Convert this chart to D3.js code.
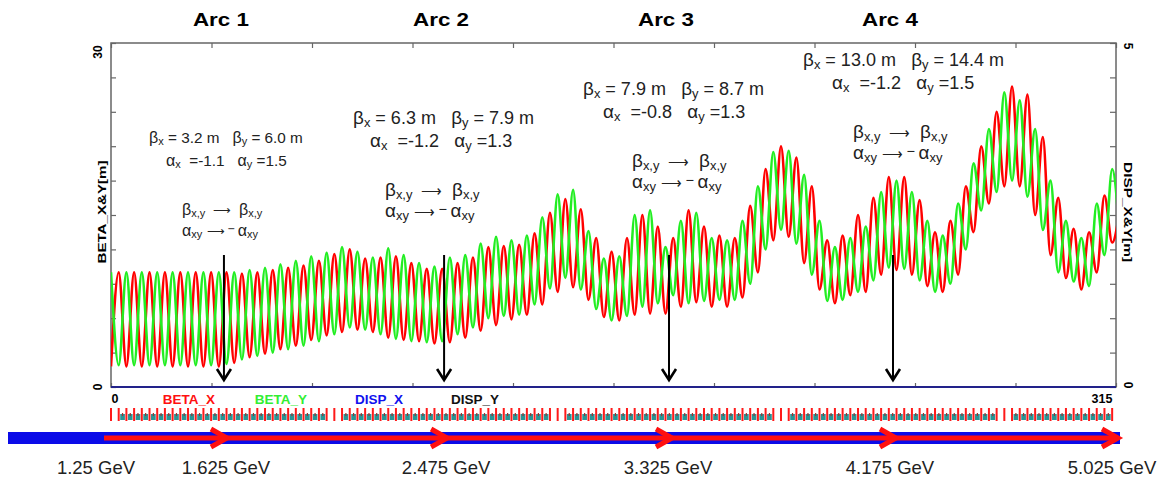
<!DOCTYPE html>
<html>
<head>
<meta charset="utf-8">
<script src="https://cdn.jsdelivr.net/npm/d3@7/dist/d3.min.js"></script>
<style>
  body { margin: 0; background: #fff; }
  svg { display: block; }
  text { font-family: "Liberation Sans", Arial, sans-serif; }
</style>
</head>
<body>
<svg id="chart" width="1169" height="481"></svg>
<script>
// ---- lattice functions sampled at every quadrupole (half-cell spacing) ----
const betaX = [
  1.8,10.0,1.8,10.0,1.8,10.0,1.8,10.0,1.8,10.0,1.8,10.0,1.8,10.0,1.8,10.0,
  2.1,9.9,2.6,10.0,2.9,10.2,3.3,10.4,3.6,10.6,4.1,11.0,4.5,11.6,4.8,12.0,
  5.0,11.2,4.8,11.3,4.3,11.4,4.1,10.8,4.0,10.3,3.8,10.3,3.9,10.8,4.3,11.3,
  4.9,12.2,5.4,12.3,5.9,12.4,6.3,13.4,7.2,15.2,8.3,16.4,8.7,15.5,7.6,13.0,
  6.1,11.8,5.8,13.0,6.3,15.0,6.4,14.0,6.4,13.0,7.0,15.4,7.4,14.0,7.0,13.2,
  7.0,13.0,7.8,15.8,10.0,19.0,12.8,21.0,13.1,20.0,10.8,17.5,8.5,12.8,7.3,13.2,
  8.0,15.0,8.3,16.5,9.8,18.3,10.2,18.3,9.8,16.3,8.8,13.5,8.3,14.5,9.8,17.5,
  13.5,21.0,16.0,24.0,17.5,26.2,17.5,25.5,15.0,21.8,11.5,16.5,9.5,13.8,8.5,13.5,
  10.0,16.7,12.6,15.5
];
const betaY = [
  10.0,1.9,10.0,1.9,10.0,1.9,10.0,1.9,10.0,1.9,10.0,1.9,10.0,1.9,10.0,2.0,
  10.0,2.4,10.2,2.7,10.4,3.0,10.7,3.3,11.0,3.6,11.4,4.0,11.7,4.6,12.2,5.2,
  11.8,5.0,11.3,4.6,12.1,4.2,11.5,4.0,10.8,3.9,10.5,4.0,11.3,4.6,11.5,5.2,
  12.5,6.0,13.1,6.2,12.8,6.3,13.2,7.2,14.8,8.6,16.8,9.5,17.2,8.5,13.6,6.8,
  11.2,5.8,11.4,6.2,15.0,7.0,15.4,7.3,12.2,8.0,14.5,7.3,15.2,7.5,13.0,7.6,
  12.8,7.6,14.5,9.0,17.5,12.0,20.5,13.7,20.6,12.5,18.5,9.8,14.5,7.5,12.2,7.6,
  13.0,8.3,14.0,9.3,17.0,10.4,18.0,10.3,17.0,9.3,14.5,8.3,13.2,9.0,16.0,12.0,
  19.5,15.4,22.5,17.0,25.7,18.0,25.0,16.6,22.5,13.7,18.0,10.0,14.5,9.2,13.0,8.8,
  16.0,11.5,19.0,13.0
];
// dispersion is zero along the whole line
const dispS = [0, 315];
const dispX = [0, 0];
const dispY = [0, 0];

const HALF_CELL = 315 / 130.5;        // quadrupole spacing [m]
const sDomain = [0, 315];
const betaDomain = [0, 30];
const dispDomain = [0, 5];
const betaTicks = [0, 3, 6, 9, 12, 15, 18, 21, 24, 27, 30];
const dispTicks = [0, 0.5, 1, 1.5, 2, 2.5, 3, 3.5, 4, 4.5, 5];
const sTicks = [0, 31.5, 63, 94.5, 126, 157.5, 189, 220.5, 252, 283.5, 315];

// straight sections (no dipoles) [m]
const straights = [[0, 2.2], [67.4, 73.0], [137.2, 142.5], [208.4, 213.1], [277.3, 282.0]];

const arcNames = ["Arc 1", "Arc 2", "Arc 3", "Arc 4"];
const arcCentres = [35.4, 104.4, 174.9, 245.1];
const twissBx = ["3.2", "6.3", "7.9", "13.0"];
const twissBy = ["6.0", "7.9", "8.7", "14.4"];
const twissAx = ["-1.1", "-1.2", "-0.8", "-1.2"];
const twissAy = ["1.5", "1.3", "1.3", "1.5"];
const energies = ["1.25 GeV", "1.625 GeV", "2.475 GeV", "3.325 GeV", "4.175 GeV", "5.025 GeV"];
const legendNames = ["BETA_X", "BETA_Y", "DISP_X", "DISP_Y"];
const legendColors = ["#ff1010", "#33ee33", "#1010ee", "#111111"];

// ---- layout ----
const svg = d3.select("#chart");
const x = d3.scaleLinear(sDomain, [111, 1116]);
const yB = d3.scaleLinear(betaDomain, [387, 43]);
const yD = d3.scaleLinear(dispDomain, [387, 43]);
const sOf = i => i * HALF_CELL;

svg.append("defs").append("clipPath").attr("id", "plotClip")
  .append("rect").attr("x", 111).attr("y", 43).attr("width", 1005).attr("height", 344);

// frame
svg.append("rect").attr("x", 111).attr("y", 43).attr("width", 1005).attr("height", 344)
  .attr("fill", "none").attr("stroke", "#666").attr("stroke-width", 1.5);

// inward ticks on all four sides
const tickStyle = g => { g.select(".domain").remove(); g.selectAll("line").attr("stroke", "#666").attr("stroke-width", 1.2); g.selectAll("text").remove(); };
svg.append("g").attr("transform", "translate(111,0)")
  .call(d3.axisLeft(yB).tickValues(betaTicks).tickSize(-5)).call(tickStyle);
svg.append("g").attr("transform", "translate(1116,0)")
  .call(d3.axisRight(yD).tickValues(dispTicks).tickSize(-6)).call(tickStyle);
svg.append("g").attr("transform", "translate(0,43)")
  .call(d3.axisTop(x).tickValues(sTicks).tickSize(-5)).call(tickStyle);
svg.append("g").attr("transform", "translate(0,387)")
  .call(d3.axisBottom(x).tickValues(sTicks).tickSize(-4)).call(tickStyle);

// beta functions
const plot = svg.append("g").attr("clip-path", "url(#plotClip)");
const line = d3.line().x((d, i) => x(sOf(i))).y(d => yB(d)).curve(d3.curveMonotoneX);
plot.append("path").datum(betaX).attr("d", line).attr("fill", "none")
  .attr("stroke", "#ff0000").attr("stroke-width", 2.6).attr("stroke-linejoin", "round");
plot.append("path").datum(betaY).attr("d", line).attr("fill", "none")
  .attr("stroke", "#22ee22").attr("stroke-width", 2.6).attr("stroke-linejoin", "round");

// dispersion (zero)
const dline = d3.line().x((d, i) => x(dispS[i])).y(d => yD(d));
svg.append("path").datum(dispY).attr("d", dline).attr("stroke", "#111").attr("stroke-width", 1.5);
svg.append("path").datum(dispX).attr("d", dline).attr("stroke", "#22228a").attr("stroke-width", 1.8);

// axis labels
const boldText = (tr, size, s) => svg.append("text").attr("transform", tr).attr("text-anchor", "middle")
  .attr("font-size", size).attr("font-weight", "bold").text(s);
boldText("translate(102,52) rotate(-90)", 12, "30");
boldText("translate(102,387) rotate(-90)", 12, "0");
boldText("translate(106,212) rotate(-90)", 11.5, "BETA_X&Y[m]").attr("textLength", 103).attr("lengthAdjust", "spacingAndGlyphs");
boldText("translate(1124,46) rotate(90)", 12, "5");
boldText("translate(1124,385) rotate(90)", 12, "0");
boldText("translate(1124,212) rotate(90)", 11.5, "DISP_X&Y[m]").attr("textLength", 100).attr("lengthAdjust", "spacingAndGlyphs");
svg.append("text").attr("x", x(0) + 4).attr("y", 403).attr("text-anchor", "middle")
  .attr("font-size", 12.5).attr("font-weight", "bold").text("0");
svg.append("text").attr("x", x(315) - 14).attr("y", 403).attr("text-anchor", "middle")
  .attr("font-size", 12.5).attr("font-weight", "bold").text("315");

// legend
const legendX = [189, 281, 379, 475];
legendNames.forEach((n, i) => {
  svg.append("text").attr("x", legendX[i]).attr("y", 404).attr("text-anchor", "middle")
    .attr("font-size", 13.5).attr("font-weight", "bold").attr("fill", legendColors[i]).text(n);
});

// lattice strip: dipoles between quadrupoles, quadrupoles as red bars
const quadS = betaX.map((d, i) => sOf(i)).filter(s => s <= 315);
const inStraight = (a, b) => straights.some(([s0, s1]) => (a + b) / 2 >= s0 && (a + b) / 2 <= s1);
const strip = svg.append("g");
quadS.slice(0, -1).forEach((s, i) => {
  const s2 = quadS[i + 1];
  if (inStraight(s, s2)) return;
  strip.append("rect").attr("x", x(s) + 1.5).attr("y", 414).attr("width", x(s2) - x(s) - 3).attr("height", 6)
    .attr("fill", "#2a9494");
  strip.append("rect").attr("x", (x(s) + x(s2)) / 2 - 0.6).attr("y", 413).attr("width", 1.2).attr("height", 3)
    .attr("fill", "#a03030");
});
quadS.forEach(s => {
  strip.append("rect").attr("x", x(s) - 1).attr("y", 408).attr("width", 2).attr("height", 13).attr("fill", "#ff1a1a");
});

// beam line and direction arrows
svg.append("rect").attr("x", 8).attr("y", 432).attr("width", 1112).attr("height", 12).attr("fill", "#0b0be8");
svg.append("line").attr("x1", 104).attr("x2", 1116).attr("y1", 438).attr("y2", 438)
  .attr("stroke", "#ff1010").attr("stroke-width", 5);
const arrowTips = arcCentres.map(s => x(s) + 4).concat([1119]);
arrowTips.forEach(t => {
  svg.append("path").attr("d", `M${t - 17},429 L${t - 1},438 L${t - 17},447`)
    .attr("fill", "none").attr("stroke", "#ff1010").attr("stroke-width", 5).attr("stroke-linejoin", "miter");
});

// energies
const energyX = [96, x(arcCentres[0]) + 2, x(arcCentres[1]) + 2, x(arcCentres[2]) - 1, x(arcCentres[3]) - 3, 1112];
energies.forEach((e, i) => {
  svg.append("text").attr("x", energyX[i]).attr("y", 474).attr("text-anchor", "middle")
    .attr("font-size", 18.5).attr("fill", "#222").text(e);
});

// arc titles, symmetry-point arrows and Twiss annotations
const blockTop = [143, 124, 95, 66];
const blockLeft = [149, 353, 583, 803];
const blockFont = [15.3, 18, 18, 18];
const alphaIndent = [17, 17, 20, 29];
const mapIndent = [33, 32, 49, 50];

// lays out one annotation row piece by piece (symbol, subscript, plain text)
function row(g, fs, y, x0, parts) {
  let cx = x0;
  parts.forEach(p => {
    const t = g.append("text").attr("x", cx).attr("y", y).text(p.t);
    if (p.g) t.attr("font-family", "Liberation Serif, DejaVu Serif, serif").attr("font-size", fs * 1.05);
    else if (p.sub) t.attr("font-size", fs * 0.72).attr("y", y + fs * 0.16);
    else if (p.arrow) t.attr("font-family", "DejaVu Sans, sans-serif").attr("font-size", fs * 0.9)
      .attr("textLength", fs * p.arrow).attr("lengthAdjust", "spacingAndGlyphs");
    else if (p.minus) t.attr("font-size", fs * 0.8).attr("y", y - fs * 0.18);
    else t.attr("font-size", fs);
    cx += t.node().getComputedTextLength() + (p.gap || 0) * fs;
  });
}

arcNames.forEach((n, i) => {
  const cx = x(arcCentres[i]);
  svg.append("text").attr("x", cx - 3).attr("y", 26).attr("text-anchor", "middle")
    .attr("font-size", 18).attr("font-weight", "bold")
    .attr("textLength", 56).attr("lengthAdjust", "spacingAndGlyphs").text(n);
  svg.append("line").attr("x1", cx).attr("x2", cx).attr("y1", 255).attr("y2", 379)
    .attr("stroke", "#000").attr("stroke-width", 2);
  svg.append("path").attr("d", `M${cx - 7},369 L${cx},380 L${cx + 7},369`)
    .attr("fill", "none").attr("stroke", "#000").attr("stroke-width", 2.6);

  const fs = blockFont[i];
  const g = svg.append("g").attr("fill", "#222");
  const L = blockLeft[i], T = blockTop[i];
  row(g, fs, T, L, [{ t: "β", g: 1 }, { t: "x", sub: 1 }, { t: "\u00a0= " + twissBx[i] + " m", gap: 0.85 },
                    { t: "β", g: 1 }, { t: "y", sub: 1 }, { t: "\u00a0= " + twissBy[i] + " m" }]);
  row(g, fs, T + 23, L + alphaIndent[i], [{ t: "α", g: 1 }, { t: "x", sub: 1 }, { t: "\u00a0\u00a0=" + twissAx[i], gap: 0.85 },
                    { t: "α", g: 1 }, { t: "y", sub: 1 }, { t: "\u00a0=" + twissAy[i] }]);
  row(g, fs, T + 72, L + mapIndent[i], [{ t: "β", g: 1 }, { t: "x,y", sub: 1, gap: 0.5 }, { t: "⟶", arrow: 1.15, gap: 0.55 },
                    { t: "β", g: 1 }, { t: "x,y", sub: 1 }]);
  row(g, fs, T + 93, L + mapIndent[i], [{ t: "α", g: 1 }, { t: "xy", sub: 1, gap: 0.3 }, { t: "⟶", arrow: 1.15, gap: 0.2 },
                    { t: "−", minus: 1, gap: 0.2 }, { t: "α", g: 1 }, { t: "xy", sub: 1 }]);
});
</script>
</body>
</html>
